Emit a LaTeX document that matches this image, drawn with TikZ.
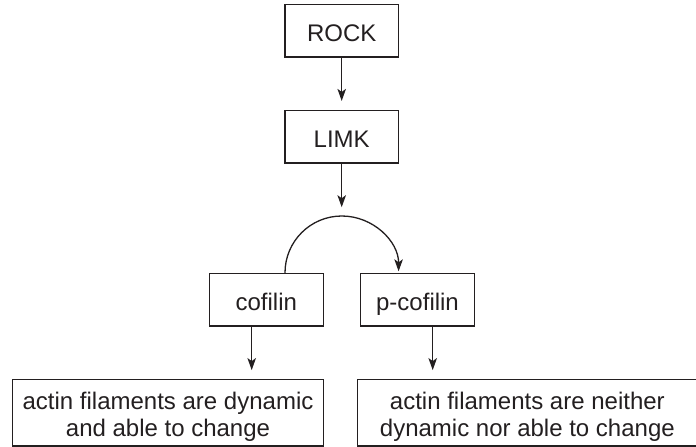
\documentclass[tikz,border=0pt]{standalone}
\usepackage{fontspec}
\setmainfont{Liberation Sans}
\usetikzlibrary{arrows.meta,calc}
\definecolor{ink}{HTML}{231F20}
\begin{document}
\begin{tikzpicture}[x=1pt,y=-1pt,
  box/.style={draw=ink,line width=1.3pt,text=ink,inner sep=0pt,
    font=\fontsize{24}{26.3}\selectfont,align=center},
  small/.style={box,minimum width=113.5pt,minimum height=52.5pt,
    text height=21pt,text depth=0pt},
  wide/.style={box,minimum height=66.7pt},
  arr/.style={draw=ink,line width=1.3pt,
    -{Stealth[length=12pt,width=8.5pt,inset=3pt]}}]
\useasboundingbox (0,0) rectangle (696,447);
\node[small] (rock) at (341.7,30.7) {ROCK};
\node[small] (limk) at (341.7,136.8) {LIMK};
\node[small,minimum width=114pt] (cof) at (266.3,299.7) {cofilin};
\node[small] (pcof) at (417.5,299.7) {p-cofilin};
\node[wide,minimum width=310.6pt] (left) at (168,412.7)
  {\rule{0pt}{25.5pt}actin filaments are dynamic\\and able to change};
\node[wide,minimum width=339.3pt] (right) at (527.35,412.7)
  {\rule{0pt}{25.5pt}actin filaments are neither\\dynamic nor able to change};
\coordinate (c1) at (251.7,0);
\coordinate (c2) at (432.7,0);
\coordinate (a1) at (285,0);
\coordinate (top) at (341.7,216.7);
\draw[arr,shorten >=9pt] (rock.south) -- (limk.north);
\draw[arr,shorten >=9.5pt] (limk.south) -- (top);
\draw[arr,shorten >=1.5pt] (cof.north -| a1) arc[start angle=180,end angle=360,radius=56.8];
\draw[arr,shorten >=8.6pt] (cof.south -| c1) -- (left.north -| c1);
\draw[arr,shorten >=8.6pt] (pcof.south -| c2) -- (right.north -| c2);
\end{tikzpicture}
\end{document}
